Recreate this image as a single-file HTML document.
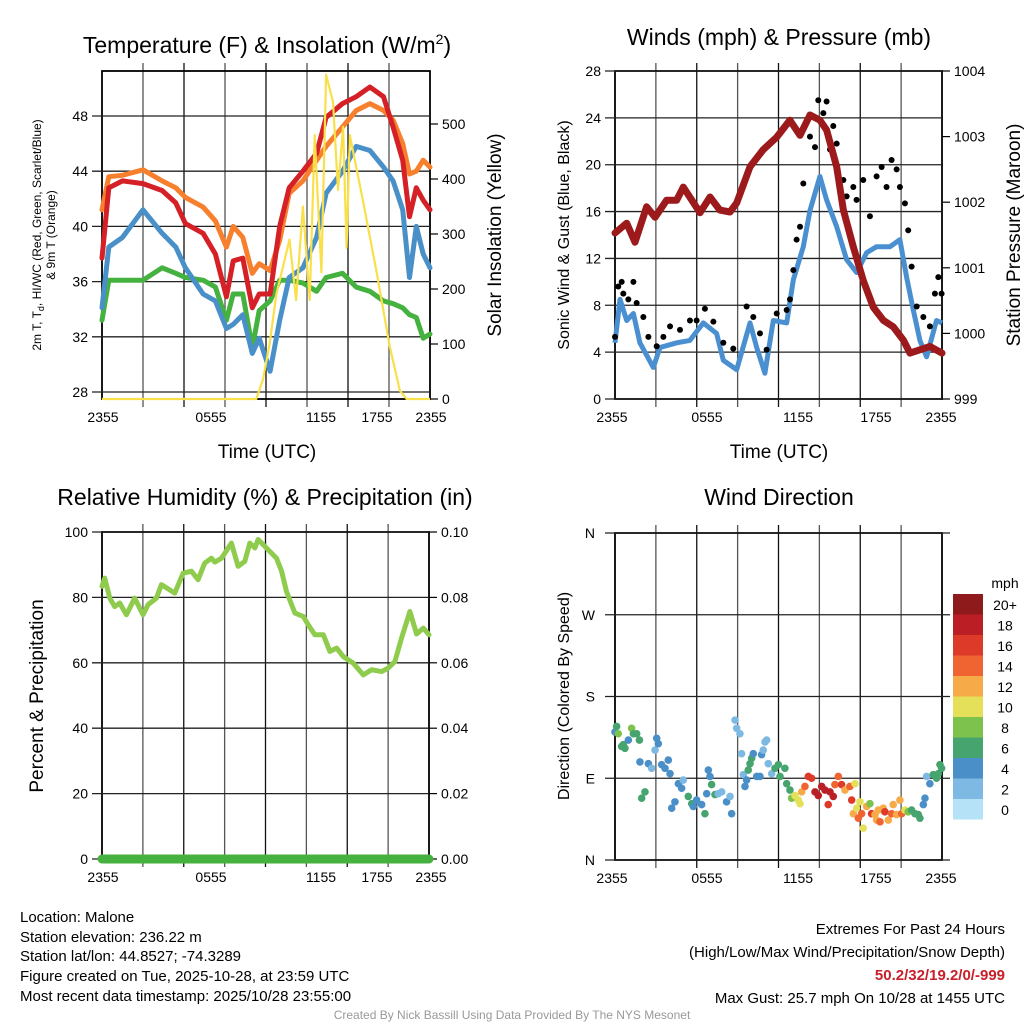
<!DOCTYPE html>
<html><head><meta charset="utf-8"><style>
html,body{margin:0;padding:0;background:#fff;}
svg{display:block;font-family:"Liberation Sans",Arial,sans-serif;}
</style></head><body>
<svg id="s" width="1024" height="1024" viewBox="0 0 1024 1024" xmlns="http://www.w3.org/2000/svg">
<g id="static">
<text x="267" y="53" font-size="23" text-anchor="middle">Temperature (F) &amp; Insolation (W/m<tspan font-size="14" dy="-9">2</tspan><tspan dy="9">)</tspan></text>
<text x="779" y="45" font-size="23" text-anchor="middle">Winds (mph) &amp; Pressure (mb)</text>
<text x="265" y="505" font-size="23" text-anchor="middle">Relative Humidity (%) &amp; Precipitation (in)</text>
<text x="779" y="505" font-size="23" text-anchor="middle">Wind Direction</text>
<text transform="translate(41,235) rotate(-90)" font-size="12" text-anchor="middle">2m T, T<tspan font-size="9" dy="3">d</tspan><tspan dy="-3">, HI/WC (Red, Green, Scarlet/Blue)</tspan></text>
<text transform="translate(55,235) rotate(-90)" font-size="12" text-anchor="middle">&amp; 9m T (Orange)</text>
<text transform="translate(501,235) rotate(-90)" font-size="19" text-anchor="middle">Solar Insolation (Yellow)</text>
<text transform="translate(569,235) rotate(-90)" font-size="16" text-anchor="middle">Sonic Wind &amp; Gust (Blue, Black)</text>
<text transform="translate(1020,235) rotate(-90)" font-size="19" text-anchor="middle">Station Pressure (Maroon)</text>
<text transform="translate(43,696) rotate(-90)" font-size="19" text-anchor="middle">Percent &amp; Precipitation</text>
<text transform="translate(569,696) rotate(-90)" font-size="16" text-anchor="middle">Direction (Colored By Speed)</text>
<text x="267" y="458" font-size="19" text-anchor="middle">Time (UTC)</text>
<text x="779" y="458" font-size="19" text-anchor="middle">Time (UTC)</text>
<text x="1005" y="588" font-size="14" text-anchor="middle">mph</text>
<g font-size="15">
<text x="20" y="922">Location: Malone</text>
<text x="20" y="942">Station elevation: 236.22 m</text>
<text x="20" y="961">Station lat/lon: 44.8527; -74.3289</text>
<text x="20" y="981">Figure created on Tue, 2025-10-28, at 23:59 UTC</text>
<text x="20" y="1001">Most recent data timestamp: 2025/10/28 23:55:00</text>
</g>
<g font-size="15" text-anchor="end">
<text x="1005" y="934">Extremes For Past 24 Hours</text>
<text x="1005" y="957">(High/Low/Max Wind/Precipitation/Snow Depth)</text>
<text x="1005" y="980" fill="#c8202a" font-weight="bold">50.2/32/19.2/0/-999</text>
<text x="1005" y="1003">Max Gust: 25.7 mph On 10/28 at 1455 UTC</text>
</g>
<text x="512" y="1019" font-size="12" fill="#999" text-anchor="middle">Created By Nick Bassill Using Data Provided By The NYS Mesonet</text>
</g>
<g id="dyn"></g>
</svg>
<script>
// ---- data ----
const tempT = [0,0.5,1.5,3,4.4,5.4,6.1,7.4,8.3,9.1,9.6,10.3,11,11.5,12.3,13,13.7,14.7,15.7,16.4,17.6,18.6,19.6,20.6,21.3,22,22.5,23,23.5,24];
const tempRed = [37.7,42.8,43.3,43.1,42.6,41.7,40.2,39.5,38,34.9,37.5,37.7,34.1,35.1,35.1,40,42.8,44,45.3,47.9,48.9,49.4,50.1,49.4,47.2,44.8,40.7,42.8,41.9,41.2];
const tempOrange = [41.2,43.6,43.7,44.1,43.3,42.8,42.1,41.4,40.4,38.5,40,39.2,36.6,37.3,36.8,39,42.4,43.3,44.8,45.8,47.2,48.4,48.9,48.4,47.7,46,43.8,44,44.8,44.3];
const tempBlue = [34.1,38.5,39.2,41.2,39.5,38.5,37,35.1,34.6,32.6,32.9,33.6,30.8,31.9,29.5,33.2,36.3,37,39.2,42.4,44,45.8,45.5,44.3,43.3,41.2,36.3,40,38,37];
const tempGreen = [33.2,36.1,36.1,36.1,37,36.6,36.3,36.1,35.6,33.2,35.1,35.1,31.2,33.9,34.6,36.1,36.1,35.9,35.3,36.3,36.6,35.6,35.3,34.6,34.4,34.1,33.6,33.4,31.9,32.2];
const solarT = [0,11.28,11.77,12.26,12.75,13.72,14.2,14.7,15.2,15.56,16.05,16.4,16.9,17.27,17.64,17.9,18.13,19.1,20.1,21.06,21.8,22.3,24];
const solarV = [0,0,35,100,190,290,180,350,180,480,230,590,540,380,495,275,480,360,230,95,15,0,0];
const tempTicks = [28,32,36,40,44,48];
const solarTicks = [0,100,200,300,400,500];

const windT = [0,0.37,0.86,1.35,1.83,2.81,3.3,4.53,5.5,6.48,7.46,7.95,8.93,9.91,10.4,11.0,11.62,12.6,13.09,13.82,14.31,15.04,15.53,16.27,17.0,17.73,18.47,19.2,20.18,20.91,21.4,21.89,22.38,22.87,23.6,24];
const windV = [4.8,8.5,6.7,7.3,4.8,2.7,4.4,4.8,5.0,6.5,5.6,3.3,2.5,6.5,4.4,2.2,6.7,6.5,10.2,13.0,16.1,19.0,17.0,14.7,11.9,10.8,12.5,13.0,13.0,13.6,10.4,7.6,5.0,3.6,6.7,6.5];
const gustT = [0,0.24,0.49,0.61,0.98,1.35,1.59,2.08,2.45,3.06,3.55,4.04,4.77,5.5,5.99,6.6,7.22,7.95,8.68,9.66,10.15,10.64,11.13,11.87,12.6,12.84,13.09,13.33,13.58,13.82,14.31,14.68,14.92,15.29,15.53,15.78,16.02,16.27,16.76,17.0,17.49,17.73,18.22,18.71,19.2,19.57,19.93,20.3,20.67,20.91,21.28,21.52,21.77,22.14,22.63,23.11,23.48,23.73,23.97];
const gustV = [5.3,9.6,10.0,9.0,8.5,10.0,8.2,7.0,5.3,4.5,5.3,6.2,5.9,6.7,6.7,7.7,6.6,4.8,4.3,7.9,7.0,5.6,4.2,7.3,7.6,8.5,11.0,13.6,14.7,18.4,22.4,21.5,25.5,24.4,25.4,21.3,23.3,21.8,18.7,17.3,18.1,17.0,18.7,15.6,19.0,19.8,18.1,20.4,19.6,18.1,16.7,14.4,11.3,7.9,7.0,6.2,9.0,10.4,9.0];
const presT = [0,0.86,1.47,2.32,2.94,3.79,4.53,5.01,6.24,6.97,7.7,8.44,8.93,9.91,10.88,11.86,12.84,13.58,14.31,15.04,15.53,16.27,16.76,17.49,18.22,18.96,19.69,20.42,21.16,21.65,22.38,23.11,24];
const presV = [1001.53,1001.68,1001.39,1001.93,1001.77,1002.03,1002.03,1002.23,1001.84,1002.08,1001.88,1001.85,1001.99,1002.54,1002.80,1002.99,1003.25,1003.02,1003.33,1003.25,1003.1,1002.54,1001.88,1001.32,1000.81,1000.4,1000.2,1000.1,999.9,999.7,999.75,999.8,999.7];
const windTicks = [0,4,8,12,16,20,24,28];
const presTicks = [999,1000,1001,1002,1003,1004];

const rhT = [0,0.2,0.57,0.93,1.3,1.79,2.4,3.01,3.38,3.99,4.36,5.34,5.95,6.56,7.05,7.54,8.03,8.28,8.77,9.5,9.99,10.48,10.85,11.22,11.46,12.2,12.81,13.18,13.54,14.16,14.77,15.14,15.62,16.24,16.73,17.22,17.71,18.44,19.18,19.79,20.52,21.01,21.5,21.99,22.6,23.09,23.58,24];
const rhV = [83.4,85.9,79.8,77.2,78.3,74.7,79.8,74.7,77.8,79.8,83.9,81.3,87.4,88,85.4,90.5,92,90.8,92,96.6,89.5,91,96.6,95.1,97.7,94.6,92,88,81.8,75.2,74.2,71.6,68.6,68.6,63.5,64.5,61.9,59.9,56.3,57.9,57.3,58.4,60.4,67.6,75.7,68.8,70.6,68.6];
const precipT = [0,24];
const precipV = [0,0];
const rhTicks = [0,20,40,60,80,100];
const precipTicks = ["0.00","0.02","0.04","0.06","0.08","0.10"];

const dirT = [0,0.12,0.24,0.49,0.61,0.73,0.98,1.22,1.35,1.59,1.79,1.83,1.96,2.2,2.45,2.69,2.94,3.06,3.18,3.42,3.67,3.91,4.04,4.16,4.4,4.65,4.89,5.01,5.38,5.63,5.75,5.99,6.36,6.6,6.73,6.85,6.97,7.09,7.34,7.58,7.83,8.19,8.44,8.56,8.81,8.93,9.17,9.29,9.42,9.54,9.66,9.78,9.91,10.03,10.15,10.4,10.64,10.76,10.88,11.01,11.13,11.25,11.5,11.74,11.99,12.11,12.47,12.6,12.84,12.96,13.21,13.45,13.58,13.7,13.94,14.19,14.43,14.68,14.92,15.17,15.41,15.65,15.78,16.02,16.14,16.39,16.63,16.88,17.24,17.37,17.49,17.61,17.73,17.86,17.98,18.1,18.22,18.47,18.71,18.83,19.08,19.2,19.32,19.45,19.69,19.81,20.06,20.3,20.42,20.67,20.91,21.04,21.28,21.52,21.77,22.01,22.26,22.38,22.63,22.75,22.87,23.11,23.36,23.6,23.73,23.85,23.97];
const dirDeg = [141,147,139,125,127,123,132,145,139,139,132,108,68,75,106,101,121,134,128,105,101,110,95,57,64,84,79,88,70,62,59,66,61,51,73,99,92,83,72,73,75,64,70,51,154,145,139,117,94,81,88,99,106,112,117,92,92,116,121,130,132,106,95,101,105,92,101,84,77,68,71,66,62,75,81,92,90,75,71,81,77,61,75,70,83,92,83,77,81,66,51,84,57,46,64,51,35,59,62,51,50,44,55,42,57,53,44,51,61,50,66,51,55,53,55,51,50,46,61,68,92,84,94,90,95,105,101];
const dirSpd = [4,7,8,6,6,6,4,8,6,6,6,4,6,6,4,3,3,4,4,4,4,4,4,4,4,4,4,3,6,6,4,4,4,6,4,4,4,6,6,3,3,4,3,4,2,2,2,2,2,4,4,6,6,6,4,4,4,4,3,2,2,3,2,6,6,6,6,6,7,8,10,10,10,13,14,17,17,18,18,19,18,16,18,18,15,14,16,13,14,16,13,10,11,15,10,15,10,12,8,16,13,13,13,15,12,16,12,14,13,13,12,15,10,9,7,6,6,6,4,4,3,4,6,6,6,6,6];
const dirLabels = ["N","E","S","W","N"];
const speedBins = ["0","2","4","6","8","10","12","14","16","18","20+"];
const speedColors = ["#b5e2f7","#7db9e2","#4a8fc7","#46a46e","#7dc24c","#e5e05a","#f6aa48","#ef6430","#de3a2a","#bb1f25","#8e1a1c"];
const timeLabels = ["2355","0555","1155","1755","2355"];

// ---- helpers ----
const NS="http://www.w3.org/2000/svg";
const root=document.getElementById('dyn');
function mk(tag,attrs,parent){const e=document.createElementNS(NS,tag);for(const k in attrs)e.setAttribute(k,attrs[k]);(parent||root).appendChild(e);return e;}
function lin(d0,d1,r0,r1){return v=>r0+(v-d0)/(d1-d0)*(r1-r0);}
function pathD(ts,vs,xs,ys){return ts.map((t,i)=>(i?'L':'M')+xs(t).toFixed(1)+' '+ys(vs[i]).toFixed(1)).join(' ');}

function frame(p,name,labelPos){
  const g=mk('g',{});
  
  
  for(let i=1;i<8;i++){const x=p.x0+(p.x1-p.x0)*i/8;
    const l=mk('line',{x1:x,x2:x,y1:p.y0-8,y2:p.y1+8,stroke:i%2?'#555':'#111','stroke-width':1.3},g);
    
    
  }
  mk('rect',{x:p.x0,y:p.y0,width:p.x1-p.x0,height:p.y1-p.y0,fill:'none',stroke:'#000','stroke-width':1.8},g);
  timeLabels.forEach((s,i)=>{
    const t=mk('text',{x:labelPos[i],y:p.y1+23,'font-size':14,'text-anchor':'middle'},g);t.textContent=s;
    
    
  });
  return g;
}
function hgrid(g,p,ys,ticks,labels,side){
  ticks.forEach((v,i)=>{const y=ys(v);
    const l=mk('line',{x1:p.x0-10,x2:p.x1+(side?6:0),y1:y,y2:y,stroke:'#222','stroke-width':1.3},g);
    
    
    const t=mk('text',{x:p.x0-14,y:y+5,'font-size':14,'text-anchor':'end'},g);t.textContent=labels?labels[i]:v;
    
    
  });
}
function rticks(g,p,ys,ticks,labels){
  ticks.forEach((v,i)=>{const y=ys(v);
    mk('line',{x1:p.x1,x2:p.x1+8,y1:y,y2:y,stroke:'#000','stroke-width':1.2},g);
    const t=mk('text',{x:p.x1+12,y:y+5,'font-size':14},g);t.textContent=labels?labels[i]:v;
    
    
  });
}

// ---- Panel 1: temperature ----
const P1={x0:102,x1:430,y0:71,y1:399};
const x1s=lin(0,24,P1.x0,P1.x1), y1s=lin(28,48,392,116), s1s=lin(0,500,399,124);
const g1=frame(P1,'temperature',[103,211,321,377,431]);
hgrid(g1,P1,y1s,tempTicks);
rticks(g1,P1,s1s,solarTicks);
[[tempGreen,'#45b23f','temp-green-line'],[tempBlue,'#4a90c8','dewpoint-blue-line'],[tempOrange,'#f7802e','temp-9m-orange-line'],[tempRed,'#d42026','temp-2m-red-line']].forEach(([v,c,n])=>{
  const p=mk('path',{d:pathD(tempT,v,x1s,y1s),fill:'none',stroke:c,'stroke-width':5,'stroke-linejoin':'round','stroke-linecap':'round'});
  
  
});
const sp=mk('path',{d:pathD(solarT,solarV,x1s,s1s),fill:'none',stroke:'#f9e04b','stroke-width':2.2,'stroke-linejoin':'round'});



// ---- Panel 2: winds ----
const P2={x0:615,x1:942,y0:71,y1:399};
const x2s=lin(0,24,P2.x0,P2.x1), y2s=lin(0,28,399,71), p2s=lin(999,1004,399,71);
const g2=frame(P2,'winds',[612,707,798,876,941]);
hgrid(g2,P2,y2s,windTicks);
rticks(g2,P2,p2s,presTicks);
const wl=mk('path',{d:pathD(windT,windV,x2s,y2s),fill:'none',stroke:'#4a90d0','stroke-width':5,'stroke-linejoin':'round'});


gustT.forEach((t,i)=>{
  const c=mk('circle',{cx:x2s(t),cy:y2s(gustV[i]),r:3,fill:'#000'});
  
  
});
const pl=mk('path',{d:pathD(presT,presV,x2s,p2s),fill:'none',stroke:'#9c1a1c','stroke-width':7,'stroke-linejoin':'round','stroke-linecap':'round'});



// ---- Panel 3: humidity ----
const P3={x0:102,x1:429,y0:532,y1:859};
const x3s=lin(0,24,P3.x0,P3.x1), y3s=lin(0,100,859,532);
const g3=frame(P3,'humidity',[103,211,321,377,431]);
hgrid(g3,P3,y3s,rhTicks);
rticks(g3,P3,y3s,rhTicks,precipTicks);
const rl=mk('path',{d:pathD(rhT,rhV,x3s,y3s),fill:'none',stroke:'#8fcb4c','stroke-width':5,'stroke-linejoin':'round','stroke-linecap':'round'});


const pr=mk('path',{d:pathD(precipT,precipV.map(v=>v*1000),x3s,y3s),fill:'none',stroke:'#45b23f','stroke-width':9,'stroke-linecap':'round'});



// ---- Panel 4: wind direction ----
const P4={x0:615,x1:942,y0:533,y1:860};
const x4s=lin(0,24,P4.x0,P4.x1), y4s=lin(0,360,860,533);
const g4=frame(P4,'wind-direction',[612,707,798,876,941]);
dirLabels.forEach((s,i)=>{const y=y4s(i*90);
  mk('line',{x1:P4.x0-10,x2:P4.x1+8,y1:y,y2:y,stroke:'#222','stroke-width':1.3},g4);
  const t=mk('text',{x:P4.x0-20,y:y+5,'font-size':14,'text-anchor':'end'},g4);t.textContent=s;
  
  
});
dirT.forEach((t,i)=>{
  const b=Math.min(10,Math.floor(dirSpd[i]/2));
  const c=mk('circle',{cx:x4s(t),cy:y4s(dirDeg[i]),r:3.8,fill:speedColors[b]});
  
  
});
// colorbar
const cb=mk('g',{});


speedBins.forEach((s,i)=>{const y=594+(10-i)*20.5;
  const r=mk('rect',{x:953,y:y,width:30,height:20.5,fill:speedColors[i]},cb);
  
  
  const t=mk('text',{x:1005,y:y+16,'font-size':14,'text-anchor':'middle'},cb);t.textContent=s;
  
  
});
</script>
</body></html>
